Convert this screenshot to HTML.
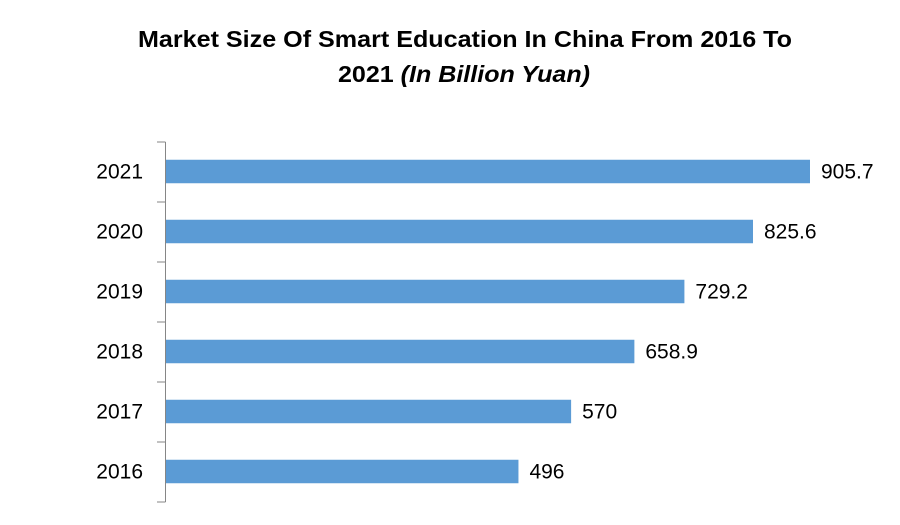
<!DOCTYPE html>
<html><head><meta charset="utf-8"><style>
body{margin:0;background:#fff;}
svg{display:block;font-family:"Liberation Sans",sans-serif;}
</style></head><body>
<svg id="chart" width="900" height="525">
<text x="138" y="47" font-size="23" font-weight="bold" fill="#000" textLength="654" lengthAdjust="spacingAndGlyphs">Market Size Of Smart Education In China From 2016 To</text>
<text x="338" y="82" font-size="23" font-weight="bold" fill="#000" textLength="252" lengthAdjust="spacingAndGlyphs">2021 <tspan font-style="italic">(In Billion Yuan)</tspan></text>
<g id="plot"></g>
</svg>
<script>
const categories=["2021","2020","2019","2018","2017","2016"];
const values=[905.7,825.6,729.2,658.9,570,496];
const labels=["905.7","825.6","729.2","658.9","570","496"];
const NS="http://www.w3.org/2000/svg";
const g=document.getElementById('plot');
const x0=165.5,pxPer=644.5/905.7,top0=142,band=60,barH=23.5;
const xs=v=>x0+v*pxPer;
const yb=i=>top0+i*band;
function mk(t,a){const e=document.createElementNS(NS,t);for(const k in a)e.setAttribute(k,a[k]);g.appendChild(e);return e;}
categories.forEach((c,i)=>{
 const y=yb(i)+(band-barH)/2-0.5;
 const r=mk('rect',{x:x0,y:y,width:xs(values[i])-x0,height:barH,fill:'#5B9BD5'});
 
 
 const t=mk('text',{x:xs(values[i])+11,y:y+barH/2+7,'font-size':21,fill:'#000'});
 t.textContent=labels[i];
 
 
 const l=mk('text',{x:143,y:y+barH/2+7,'font-size':21,fill:'#000','text-anchor':'end'});
 l.textContent=c;
 
 
});
for(let i=0;i<=categories.length;i++){
 const tk=mk('line',{x1:157,x2:x0,y1:yb(i),y2:yb(i),stroke:'#868686','stroke-width':1});
 
 
}
const ax=mk('line',{x1:x0,x2:x0,y1:yb(0),y2:yb(categories.length),stroke:'#868686','stroke-width':1});


</script>
</body></html>
